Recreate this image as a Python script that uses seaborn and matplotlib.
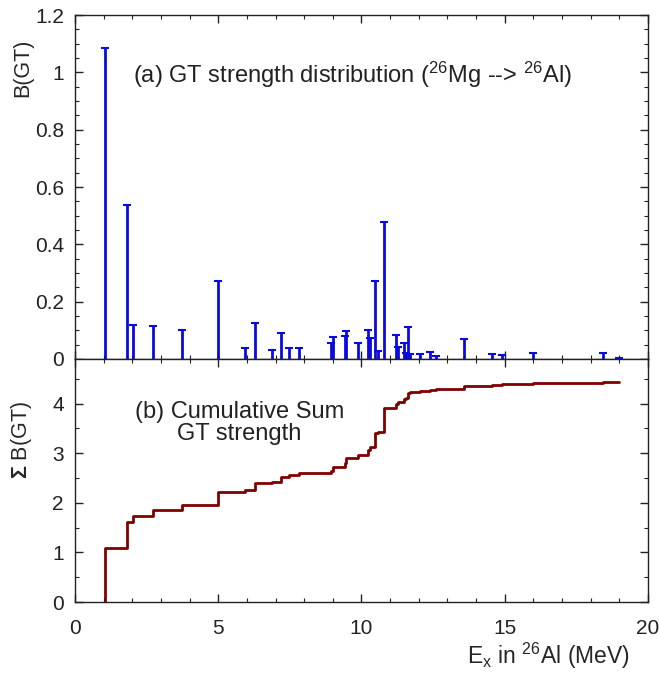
import numpy as np
import pandas as pd
import matplotlib
matplotlib.use("Agg")
import matplotlib.pyplot as plt
from matplotlib.ticker import MultipleLocator
import seaborn as sns

# GT transition energies (MeV) and strengths
energy = [1.04, 1.83, 2.04, 2.72, 3.74, 5.00, 5.94, 6.27, 6.88, 7.20,
          7.47, 7.82, 8.92, 9.02, 9.41, 9.46, 9.88, 10.21, 10.28, 10.48,
          10.58, 10.80, 11.21, 11.29, 11.48, 11.57, 11.64, 11.71, 12.03, 12.40,
          12.60, 13.59, 14.55, 14.91, 15.97, 18.43, 19.00]
bgt = [1.086, 0.536, 0.118, 0.115, 0.100, 0.271, 0.040, 0.126, 0.030, 0.090,
       0.040, 0.040, 0.055, 0.075, 0.080, 0.099, 0.057, 0.100, 0.074, 0.272,
       0.029, 0.479, 0.083, 0.042, 0.055, 0.020, 0.112, 0.017, 0.019, 0.023,
       0.010, 0.068, 0.017, 0.014, 0.022, 0.021, 0.003]

df = pd.DataFrame({"E": energy, "B": bgt})
cum = pd.DataFrame({"E": [energy[0]] + energy,
                    "S": [0.0] + list(np.cumsum(bgt))})

sns.set_style("ticks")
plt.rcParams["font.family"] = ["Liberation Sans", "DejaVu Sans"]
plt.rcParams["mathtext.fontset"] = "custom"
plt.rcParams["mathtext.rm"] = "Liberation Sans"
plt.rcParams["mathtext.bf"] = "Liberation Sans:bold"
plt.rcParams["mathtext.default"] = "regular"
plt.rcParams["text.color"] = "#222222"
plt.rcParams["xtick.color"] = "#222222"
plt.rcParams["ytick.color"] = "#222222"

fig = plt.figure(figsize=(6.59, 6.74), dpi=100)
ax1 = fig.add_axes([0.1138, 0.4674, 0.8695, 0.5103])
ax2 = fig.add_axes([0.1138, 0.1068, 0.8695, 0.3606], sharex=ax1)

blue = "#0a0ae0"
darkred = "#800000"

# (a) strength distribution
ax1.vlines(df["E"], 0, df["B"], color=blue, lw=2)
sns.scatterplot(data=df, x="E", y="B", marker="_", s=28, color=blue,
                linewidth=1.5, ax=ax1, zorder=3)
ax1.set_ylim(0, 1.2)
ax1.yaxis.set_minor_locator(MultipleLocator(0.05))
ax1.set_yticks([0, 0.2, 0.4, 0.6, 0.8, 1, 1.2], ["0", "0.2", "0.4", "0.6", "0.8", "1", "1.2"])
ax1.set_ylabel("B(GT)", fontsize=15.5)
ax1.yaxis.set_label_coords(-0.072, 0.846)
ax1.set_xlabel("")
ax1.tick_params(labelbottom=False)
ax1.text(2.03, 0.99, r"(a) GT strength distribution ($^{26}$Mg --> $^{26}$Al)",
         fontsize=17, va="center", ha="left")

# (b) cumulative sum
sns.lineplot(data=cum, x="E", y="S", drawstyle="steps-post", color=darkred,
             lw=2, estimator=None, sort=False, ax=ax2)
ax2.set_xlim(0, 20)
ax2.set_ylim(0, 4.9)
ax2.xaxis.set_major_locator(MultipleLocator(5))
ax2.xaxis.set_minor_locator(MultipleLocator(1))
ax2.yaxis.set_major_locator(MultipleLocator(1))
ax2.yaxis.set_minor_locator(MultipleLocator(0.5))
ax2.set_ylabel(r"$\mathbf{\Sigma}$ B(GT)", fontsize=15.5)
ax2.yaxis.set_label_coords(-0.072, 0.667)
ax2.set_xlabel(r"E$_x$ in $^{26}$Al (MeV)", fontsize=16.5, ha="right")
ax2.xaxis.set_label_coords(0.969, -0.16)
ax2.text(5.73, 3.6, "(b) Cumulative Sum\nGT strength", fontsize=17,
         ha="center", va="center", multialignment="center", linespacing=1.0)

for ax in (ax1, ax2):
    for s in ax.spines.values():
        s.set_visible(True)
        s.set_color("#222222")
        s.set_linewidth(1.0)
    ax.tick_params(which="both", direction="in", top=True, right=True)
    ax.tick_params(which="major", length=6, width=1, labelsize=15)
    ax.tick_params(which="minor", length=3, width=0.8)
    ax.tick_params(axis="y", which="major", pad=8)
ax2.tick_params(axis="x", which="major", pad=12)

fig.savefig("out.png", dpi=100)
